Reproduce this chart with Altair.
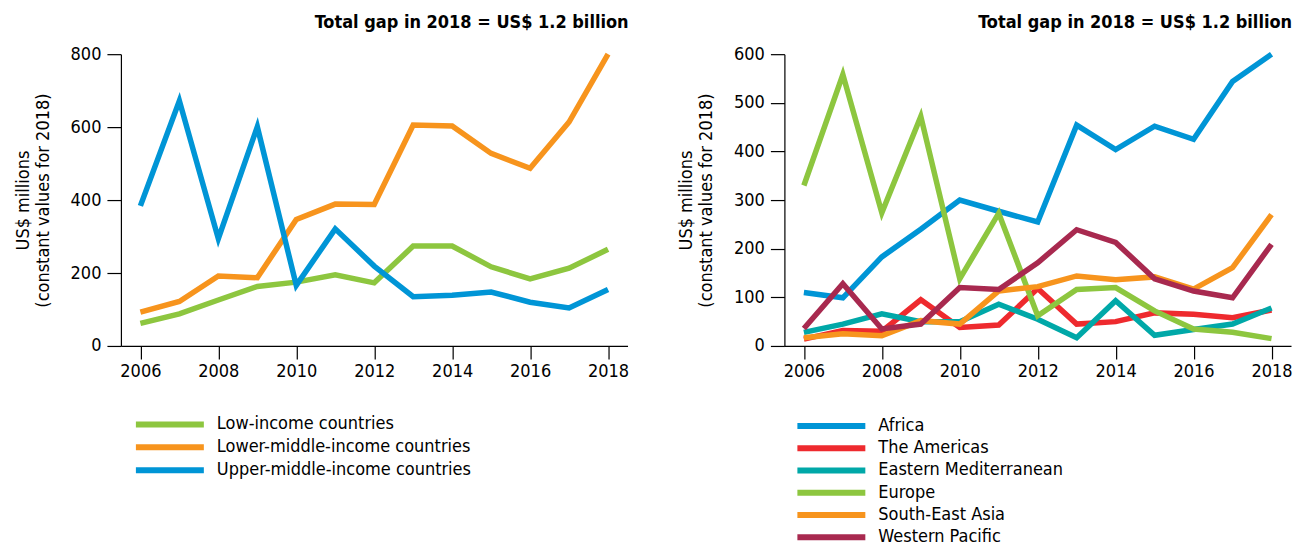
import altair as alt
import pandas as pd

years = list(range(2006, 2019))
tick_years = [2006, 2008, 2010, 2012, 2014, 2016, 2018]

# Left panel: by income group
income_groups = ["Low-income countries", "Lower-middle-income countries", "Upper-middle-income countries"]
income_colors = ["#8DC63F", "#F7941D", "#0095D6"]
low_income = [62, 88, 126, 163, 175, 195, 173, 274, 274, 217, 184, 213, 265]
lower_middle_income = [93, 122, 192, 187, 347, 389, 388, 606, 603, 528, 487, 614, 800]
upper_middle_income = [384, 672, 294, 601, 166, 321, 219, 135, 139, 148, 120, 104, 155]

# Right panel: by WHO region
regions = ["Africa", "The Americas", "Eastern Mediterranean", "Europe", "South-East Asia", "Western Pacific"]
region_colors = ["#0095D6", "#EE2A2E", "#00A8A8", "#8DC63F", "#F7941D", "#A8294F"]
africa = [110, 99, 183, 240, 300, 277, 255, 454, 404, 452, 425, 544, 600]
americas = [14, 32, 30, 95, 38, 43, 118, 45, 50, 68, 65, 58, 74]
east_med = [28, 45, 66, 50, 50, 86, 55, 17, 93, 22, 34, 45, 78]
europe = [330, 558, 274, 472, 138, 273, 62, 116, 120, 72, 35, 28, 15]
se_asia = [17, 25, 21, 52, 45, 113, 122, 144, 136, 142, 117, 161, 270]
w_pacific = [36, 128, 35, 45, 120, 116, 171, 239, 213, 138, 113, 99, 209]

title_text = "Total gap in 2018 = US$ 1.2 billion"
y_title = ["US$ millions", "(constant values for 2018)"]
FONT = "DejaVu Sans Condensed"


def long_frame(names, series):
    rows = []
    for name, vals in zip(names, series):
        for yr, v in zip(years, vals):
            rows.append({"year": yr, "value": v, "series": name})
    return pd.DataFrame(rows)


left_df = long_frame(income_groups, [low_income, lower_middle_income, upper_middle_income])
right_df = long_frame(regions, [africa, americas, east_med, europe, se_asia, w_pacific])


def panel(df, names, colors, ymax, ystep, clip_h, row_pad, legend_x, legend_y):
    return alt.Chart(df).mark_line(strokeWidth=5.5).encode(
        x=alt.X(
            "year:Q",
            scale=alt.Scale(domain=[2005.5, 2018.5], nice=False, zero=False),
            axis=alt.Axis(values=tick_years, format="d", title=None, tickSize=13,
                          labelPadding=4, grid=False),
        ),
        y=alt.Y(
            "value:Q",
            scale=alt.Scale(domain=[0, ymax], nice=False),
            axis=alt.Axis(values=list(range(0, ymax + 1, ystep)), title=y_title,
                          tickSize=14, labelPadding=6, grid=False,
                          titleLineHeight=20, titlePadding=18),
        ),
        color=alt.Color(
            "series:N",
            sort=names,
            scale=alt.Scale(domain=names, range=colors),
            legend=alt.Legend(
                title=None, orient="none", legendX=legend_x, legendY=legend_y,
                direction="vertical", symbolType="stroke", symbolSize=4624,
                symbolStrokeWidth=6, clipHeight=clip_h, rowPadding=row_pad,
                labelFont=FONT, labelFontSize=18, labelColor="black",
                labelOffset=10, padding=0, labelLimit=400,
            ),
        ),
    ).properties(
        width=507, height=292,
        title=alt.TitleParams(title_text, anchor="end", font=FONT, fontSize=18,
                              fontWeight="bold", color="black", offset=11.5),
    )


left = panel(left_df, income_groups, income_colors, 800, 200, 21, 2, 12, 360)
right = panel(right_df, regions, region_colors, 600, 100, 20, 2.3, 10, 362)

chart = alt.hconcat(left, right, spacing=48).resolve_scale(color="independent").properties(
    padding={"left": 6, "top": 5, "right": 5, "bottom": 5}
).configure(background="white").configure_view(stroke=None).configure_axis(
    labelFont=FONT, labelFontSize=18, labelColor="black",
    titleFont=FONT, titleFontSize=18, titleColor="black", titleFontWeight="normal",
    domainColor="black", tickColor="black", domainWidth=1.2, tickWidth=1.2,
)

chart.save("out.html", embed_options={"renderer": "svg", "actions": False})
